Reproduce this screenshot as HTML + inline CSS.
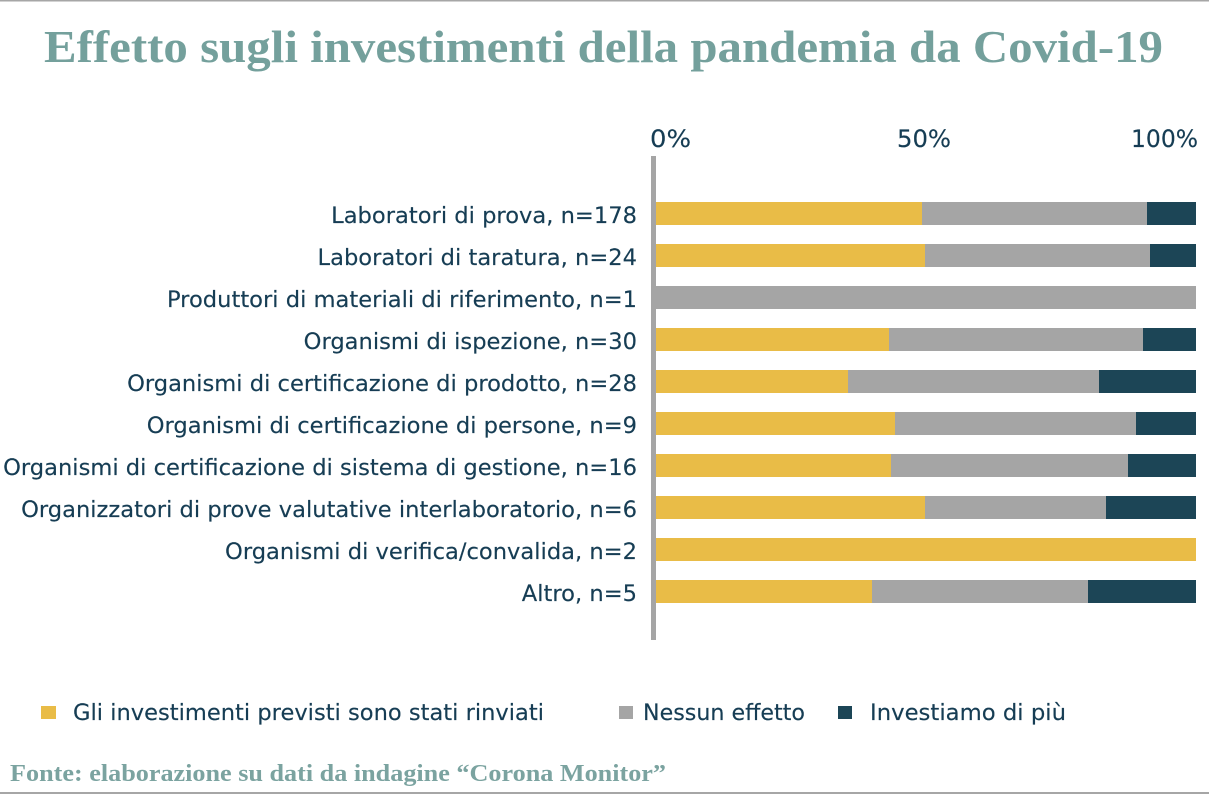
<!DOCTYPE html>
<html>
<head>
<meta charset="utf-8">
<style>
  html, body { margin:0; padding:0; background:#fff; }
  svg { display:block; }
  .lab { font-family: "DejaVu Sans", "Liberation Sans", sans-serif; font-size:22.6px; fill:#163d54; stroke:#163d54; stroke-width:0.15; }
</style>
</head>
<body>
<svg width="1209" height="794" viewBox="0 0 1209 794" xmlns="http://www.w3.org/2000/svg">
  <rect x="0" y="0" width="1209" height="794" fill="#ffffff"/>
  <rect x="0" y="0" width="1209" height="1.5" fill="#a6a6a6"/>
  <rect x="0" y="792" width="1209" height="2" fill="#a6a6a6"/>

  <text x="44" y="62" font-family="Liberation Serif, serif" font-weight="bold" font-size="46" fill="#74a09c" textLength="1119" lengthAdjust="spacingAndGlyphs">Effetto sugli investimenti della pandemia da Covid-19</text>

  <!-- tick labels -->
  <text class="lab" x="650" y="147" style="font-size:24px" textLength="41" lengthAdjust="spacingAndGlyphs">0%</text>
  <text class="lab" x="897" y="147" style="font-size:24px" textLength="54" lengthAdjust="spacingAndGlyphs">50%</text>
  <text class="lab" x="1131" y="147" style="font-size:24px" textLength="67" lengthAdjust="spacingAndGlyphs">100%</text>

  <!-- bars -->
  <g>
    <rect x="656" y="202" width="266" height="23" fill="#e9bc47"/>
    <rect x="922" y="202" width="225" height="23" fill="#a5a5a5"/>
    <rect x="1147" y="202" width="49" height="23" fill="#1c4556"/>

    <rect x="656" y="244" width="269" height="23" fill="#e9bc47"/>
    <rect x="925" y="244" width="225" height="23" fill="#a5a5a5"/>
    <rect x="1150" y="244" width="46" height="23" fill="#1c4556"/>

    <rect x="656" y="286" width="540" height="23" fill="#a5a5a5"/>

    <rect x="656" y="328" width="233" height="23" fill="#e9bc47"/>
    <rect x="889" y="328" width="254" height="23" fill="#a5a5a5"/>
    <rect x="1143" y="328" width="53" height="23" fill="#1c4556"/>

    <rect x="656" y="370" width="192" height="23" fill="#e9bc47"/>
    <rect x="848" y="370" width="251" height="23" fill="#a5a5a5"/>
    <rect x="1099" y="370" width="97" height="23" fill="#1c4556"/>

    <rect x="656" y="412" width="239" height="23" fill="#e9bc47"/>
    <rect x="895" y="412" width="241" height="23" fill="#a5a5a5"/>
    <rect x="1136" y="412" width="60" height="23" fill="#1c4556"/>

    <rect x="656" y="454" width="235" height="23" fill="#e9bc47"/>
    <rect x="891" y="454" width="237" height="23" fill="#a5a5a5"/>
    <rect x="1128" y="454" width="68" height="23" fill="#1c4556"/>

    <rect x="656" y="496" width="269" height="23" fill="#e9bc47"/>
    <rect x="925" y="496" width="181" height="23" fill="#a5a5a5"/>
    <rect x="1106" y="496" width="90" height="23" fill="#1c4556"/>

    <rect x="656" y="538" width="540" height="23" fill="#e9bc47"/>

    <rect x="656" y="580" width="216" height="23" fill="#e9bc47"/>
    <rect x="872" y="580" width="216" height="23" fill="#a5a5a5"/>
    <rect x="1088" y="580" width="108" height="23" fill="#1c4556"/>
  </g>

  <!-- axis -->
  <rect x="651" y="156" width="5" height="484" fill="#a5a5a5"/>

  <!-- category labels -->
  <g text-anchor="end">
    <text class="lab" x="637" y="223">Laboratori di prova, n=178</text>
    <text class="lab" x="637" y="265">Laboratori di taratura, n=24</text>
    <text class="lab" x="637" y="307">Produttori di materiali di riferimento, n=1</text>
    <text class="lab" x="637" y="349">Organismi di ispezione, n=30</text>
    <text class="lab" x="637" y="391">Organismi di certificazione di prodotto, n=28</text>
    <text class="lab" x="637" y="433">Organismi di certificazione di persone, n=9</text>
    <text class="lab" x="637" y="475">Organismi di certificazione di sistema di gestione, n=16</text>
    <text class="lab" x="637" y="517">Organizzatori di prove valutative interlaboratorio, n=6</text>
    <text class="lab" x="637" y="559">Organismi di verifica/convalida, n=2</text>
    <text class="lab" x="637" y="601">Altro, n=5</text>
  </g>

  <!-- legend -->
  <rect x="41" y="706" width="15" height="13" fill="#e9bc47"/>
  <text class="lab" x="73" y="720" textLength="471" lengthAdjust="spacingAndGlyphs">Gli investimenti previsti sono stati rinviati</text>
  <rect x="619" y="706" width="14" height="13" fill="#a5a5a5"/>
  <text class="lab" x="643" y="720" textLength="162" lengthAdjust="spacingAndGlyphs">Nessun effetto</text>
  <rect x="838" y="706" width="14" height="13" fill="#1c4556"/>
  <text class="lab" x="870" y="720" textLength="196" lengthAdjust="spacingAndGlyphs">Investiamo di più</text>

  <!-- footer -->
  <text x="10" y="781" font-family="Liberation Serif, serif" font-weight="bold" font-size="24" fill="#7ba3a0" textLength="656" lengthAdjust="spacingAndGlyphs">Fonte: elaborazione su dati da indagine “Corona Monitor”</text>
</svg>
</body>
</html>
